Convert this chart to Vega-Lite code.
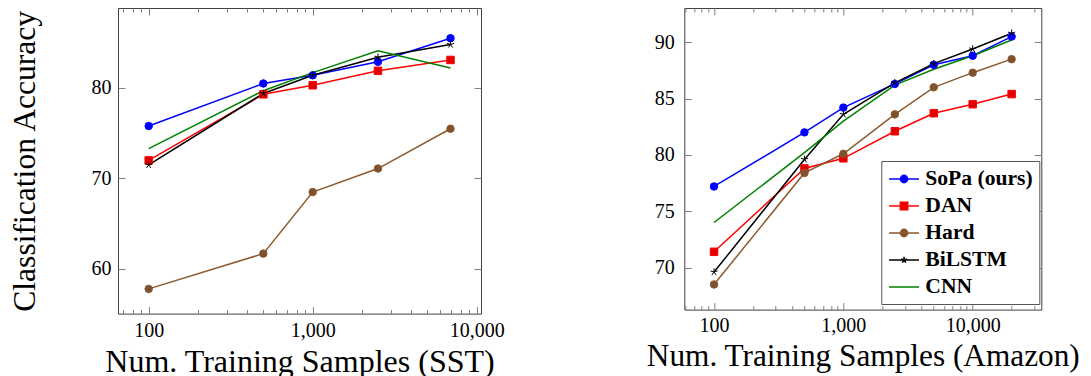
{
  "$schema": "https://vega.github.io/schema/vega-lite/v6.json",
  "padding": {"left": 8, "top": 7, "right": 5, "bottom": 0},
  "background": "white",
  "config": {
    "font": "Liberation Serif",
    "view": {"stroke": "#404040", "strokeWidth": 1},
    "axis": {
      "labelFont": "Liberation Serif",
      "titleFont": "Liberation Serif",
      "labelFontSize": 20,
      "labelColor": "#000000",
      "titleColor": "#000000",
      "titleFontWeight": "normal",
      "tickColor": "#808080",
      "tickWidth": 1,
      "grid": false,
      "domain": false,
      "labelFlush": false,
      "labelOverlap": false,
      "labelBound": false
    },
    "legend": {"labelFont": "Liberation Serif"}
  },
  "datasets": {
    "d": [
      {"panel": "SST", "model": "SoPa (ours)", "n": 100, "acc": 75.8},
      {"panel": "SST", "model": "SoPa (ours)", "n": 500, "acc": 80.5},
      {"panel": "SST", "model": "SoPa (ours)", "n": 1000, "acc": 81.4},
      {"panel": "SST", "model": "SoPa (ours)", "n": 2500, "acc": 82.9},
      {"panel": "SST", "model": "SoPa (ours)", "n": 6920, "acc": 85.5},
      {"panel": "SST", "model": "DAN", "n": 100, "acc": 72.0},
      {"panel": "SST", "model": "DAN", "n": 500, "acc": 79.3},
      {"panel": "SST", "model": "DAN", "n": 1000, "acc": 80.3},
      {"panel": "SST", "model": "DAN", "n": 2500, "acc": 81.9},
      {"panel": "SST", "model": "DAN", "n": 6920, "acc": 83.1},
      {"panel": "SST", "model": "Hard", "n": 100, "acc": 57.8},
      {"panel": "SST", "model": "Hard", "n": 500, "acc": 61.7},
      {"panel": "SST", "model": "Hard", "n": 1000, "acc": 68.5},
      {"panel": "SST", "model": "Hard", "n": 2500, "acc": 71.1},
      {"panel": "SST", "model": "Hard", "n": 6920, "acc": 75.5},
      {"panel": "SST", "model": "BiLSTM", "n": 100, "acc": 71.5},
      {"panel": "SST", "model": "BiLSTM", "n": 500, "acc": 79.4},
      {"panel": "SST", "model": "BiLSTM", "n": 1000, "acc": 81.4},
      {"panel": "SST", "model": "BiLSTM", "n": 2500, "acc": 83.4},
      {"panel": "SST", "model": "BiLSTM", "n": 6920, "acc": 84.8},
      {"panel": "SST", "model": "CNN", "n": 100, "acc": 73.3},
      {"panel": "SST", "model": "CNN", "n": 500, "acc": 79.7},
      {"panel": "SST", "model": "CNN", "n": 1000, "acc": 81.7},
      {"panel": "SST", "model": "CNN", "n": 2500, "acc": 84.1},
      {"panel": "SST", "model": "CNN", "n": 6920, "acc": 82.2},
      {"panel": "Amazon", "model": "SoPa (ours)", "n": 100, "acc": 77.2},
      {"panel": "Amazon", "model": "SoPa (ours)", "n": 500, "acc": 82.0},
      {"panel": "Amazon", "model": "SoPa (ours)", "n": 1000, "acc": 84.2},
      {"panel": "Amazon", "model": "SoPa (ours)", "n": 2500, "acc": 86.3},
      {"panel": "Amazon", "model": "SoPa (ours)", "n": 5000, "acc": 88.0},
      {"panel": "Amazon", "model": "SoPa (ours)", "n": 10000, "acc": 88.8},
      {"panel": "Amazon", "model": "SoPa (ours)", "n": 20000, "acc": 90.5},
      {"panel": "Amazon", "model": "DAN", "n": 100, "acc": 71.4},
      {"panel": "Amazon", "model": "DAN", "n": 500, "acc": 78.8},
      {"panel": "Amazon", "model": "DAN", "n": 1000, "acc": 79.7},
      {"panel": "Amazon", "model": "DAN", "n": 2500, "acc": 82.1},
      {"panel": "Amazon", "model": "DAN", "n": 5000, "acc": 83.7},
      {"panel": "Amazon", "model": "DAN", "n": 10000, "acc": 84.5},
      {"panel": "Amazon", "model": "DAN", "n": 20000, "acc": 85.4},
      {"panel": "Amazon", "model": "Hard", "n": 100, "acc": 68.5},
      {"panel": "Amazon", "model": "Hard", "n": 500, "acc": 78.4},
      {"panel": "Amazon", "model": "Hard", "n": 1000, "acc": 80.1},
      {"panel": "Amazon", "model": "Hard", "n": 2500, "acc": 83.6},
      {"panel": "Amazon", "model": "Hard", "n": 5000, "acc": 86.0},
      {"panel": "Amazon", "model": "Hard", "n": 10000, "acc": 87.3},
      {"panel": "Amazon", "model": "Hard", "n": 20000, "acc": 88.5},
      {"panel": "Amazon", "model": "BiLSTM", "n": 100, "acc": 69.6},
      {"panel": "Amazon", "model": "BiLSTM", "n": 500, "acc": 79.6},
      {"panel": "Amazon", "model": "BiLSTM", "n": 1000, "acc": 83.6},
      {"panel": "Amazon", "model": "BiLSTM", "n": 2500, "acc": 86.4},
      {"panel": "Amazon", "model": "BiLSTM", "n": 5000, "acc": 88.1},
      {"panel": "Amazon", "model": "BiLSTM", "n": 10000, "acc": 89.4},
      {"panel": "Amazon", "model": "BiLSTM", "n": 20000, "acc": 90.8},
      {"panel": "Amazon", "model": "CNN", "n": 100, "acc": 74.0},
      {"panel": "Amazon", "model": "CNN", "n": 500, "acc": 80.2},
      {"panel": "Amazon", "model": "CNN", "n": 1000, "acc": 83.0},
      {"panel": "Amazon", "model": "CNN", "n": 2500, "acc": 86.2},
      {"panel": "Amazon", "model": "CNN", "n": 5000, "acc": 87.6},
      {"panel": "Amazon", "model": "CNN", "n": 10000, "acc": 88.8},
      {"panel": "Amazon", "model": "CNN", "n": 20000, "acc": 90.2}
    ]
  },
  "hconcat": [
    {
      "width": 363,
      "height": 305.6,
      "data": {"name": "d"},
      "transform": [{"filter": "datum.panel === 'SST'"}],
      "layer": [
        {
          "mark": {"type": "line", "strokeWidth": 1.5},
          "encoding": {
            "x": {"field": "n", "type": "quantitative",
              "scale": {"type": "log", "domain": [65, 10620], "nice": false},
              "axis": {"orient": "bottom", "values": [100, 1000, 10000], "format": ",", "offset": -7, "tickSize": 7, "labelPadding": 7,
                "title": "Num. Training Samples (SST)", "titleFontSize": 32, "titlePadding": 6}},
            "y": {"field": "acc", "type": "quantitative",
              "scale": {"domain": [55.07, 88.84], "nice": false, "zero": false},
              "axis": {"orient": "left", "values": [60, 70, 80], "offset": -7, "tickSize": 7, "labelPadding": 7,
                "title": "Classification Accuracy", "titleFontSize": 31.6, "titlePadding": 50}},
            "color": {"field": "model", "type": "nominal",
              "scale": {"domain": ["SoPa (ours)", "DAN", "Hard", "BiLSTM", "CNN"], "range": ["#0000ff", "#ff0000", "#8c5a2d", "#000000", "#008000"]},
              "legend": null}
          }
        },
        {
          "transform": [{"filter": "datum.model !== 'CNN'"}],
          "mark": {"type": "point", "filled": false, "size": 56, "strokeWidth": 1, "opacity": 1},
          "encoding": {
            "x": {"field": "n", "type": "quantitative",
              "axis": {"orient": "bottom", "values": [70, 80, 90, 200, 300, 400, 500, 600, 700, 800, 900, 2000, 3000, 4000, 5000, 6000, 7000, 8000, 9000], "offset": -4, "tickSize": 4, "labels": false, "title": null}},
            "y": {"field": "acc", "type": "quantitative",
              "axis": {"orient": "right", "values": [60, 70, 80], "offset": -7, "tickSize": 7, "labels": false, "title": null}},
            "color": {"field": "model", "type": "nominal", "legend": null},
            "fill": {"field": "model", "type": "nominal",
              "scale": {"domain": ["SoPa (ours)", "DAN", "Hard", "BiLSTM", "CNN"], "range": ["#0000ff", "#e00000", "#7d5230", "#000000", "#008000"]},
              "legend": null},
            "shape": {"field": "model", "type": "nominal",
              "scale": {"domain": ["SoPa (ours)", "DAN", "Hard", "BiLSTM"], "range": ["circle", "square", "circle", "M0,0L0,-1M0,0L0.951,-0.309M0,0L0.588,0.809M0,0L-0.588,0.809M0,0L-0.951,-0.309"]},
              "legend": null}
          }
        },
        {
          "mark": {"type": "point", "opacity": 0},
          "encoding": {
            "x": {"field": "n", "type": "quantitative",
              "axis": {"orient": "top", "values": [100, 1000, 10000], "offset": -7, "tickSize": 7, "labels": false, "title": null}},
            "y": {"field": "acc", "type": "quantitative", "axis": null}
          }
        },
        {
          "mark": {"type": "point", "opacity": 0},
          "encoding": {
            "x": {"field": "n", "type": "quantitative",
              "axis": {"orient": "top", "values": [70, 80, 90, 200, 300, 400, 500, 600, 700, 800, 900, 2000, 3000, 4000, 5000, 6000, 7000, 8000, 9000], "offset": -4, "tickSize": 4, "labels": false, "title": null}},
            "y": {"field": "acc", "type": "quantitative", "axis": null}
          }
        }
      ],
      "resolve": {"axis": {"x": "independent", "y": "independent"}}
    },
    {
      "width": 357,
      "height": 301.6,
      "data": {"name": "d"},
      "transform": [{"filter": "datum.panel === 'Amazon'"}],
      "layer": [
        {
          "mark": {"type": "line", "strokeWidth": 1.5},
          "encoding": {
            "x": {"field": "n", "type": "quantitative",
              "scale": {"type": "log", "domain": [58.9, 33920], "nice": false},
              "axis": {"orient": "bottom", "values": [100, 1000, 10000], "format": ",", "offset": -7, "tickSize": 7, "labelPadding": 6,
                "title": "Num. Training Samples (Amazon)", "titleFontSize": 31.3, "titlePadding": 5}},
            "y": {"field": "acc", "type": "quantitative",
              "scale": {"domain": [66.27, 93.04], "nice": false, "zero": false},
              "axis": {"orient": "left", "values": [70, 75, 80, 85, 90], "offset": -7, "tickSize": 7, "labelPadding": 10, "title": null}},
            "color": {"field": "model", "type": "nominal",
              "scale": {"domain": ["SoPa (ours)", "DAN", "Hard", "BiLSTM", "CNN"], "range": ["#0000ff", "#ff0000", "#8c5a2d", "#000000", "#008000"]},
              "legend": {
                "orient": "none", "legendX": 197, "legendY": 153, "title": null,
                "padding": 6, "strokeColor": "#555555", "fillColor": "#ffffff",
                "labelFont": "Liberation Serif", "labelFontSize": 21.6, "labelFontWeight": "bold", "labelColor": "#000000",
                "symbolSize": 484, "symbolStrokeWidth": 1.5, "labelOffset": 14, "rowPadding": 4,
                "encode": {
                  "symbols": {
                    "update": {
                      "shape": {"signal": "(datum.value === 'SoPa (ours)' || datum.value === 'Hard') ? 'M-0.93,0H1.79M0.76,0A0.33,0.33,0,1,1,0.1,0A0.33,0.33,0,1,1,0.76,0Z' : datum.value === 'DAN' ? 'M-0.93,0H1.79M0.09,-0.34H0.77V0.34H0.09Z' : datum.value === 'BiLSTM' ? 'M-0.93,0H1.79M0.43,0V-0.29M0.43,0L0.706,-0.09M0.43,0L0.6,0.235M0.43,0L0.26,0.235M0.43,0L0.154,-0.09' : 'M-0.93,0H1.79'"},
                      "fill": {"signal": "datum.value === 'SoPa (ours)' ? '#0000ff' : datum.value === 'DAN' ? '#e00000' : datum.value === 'Hard' ? '#7d5230' : datum.value === 'BiLSTM' ? '#000000' : '#008000'"}
                    }
                  }
                }
              }}
          }
        },
        {
          "transform": [{"filter": "datum.model !== 'CNN'"}],
          "mark": {"type": "point", "filled": false, "size": 56, "strokeWidth": 1, "opacity": 1},
          "encoding": {
            "x": {"field": "n", "type": "quantitative",
              "axis": {"orient": "bottom", "values": [60, 70, 80, 90, 200, 300, 400, 500, 600, 700, 800, 900, 2000, 3000, 4000, 5000, 6000, 7000, 8000, 9000, 20000, 30000], "offset": -4, "tickSize": 4, "labels": false, "title": null}},
            "y": {"field": "acc", "type": "quantitative",
              "axis": {"orient": "right", "values": [70, 75, 80, 85, 90], "offset": -7, "tickSize": 7, "labels": false, "title": null}},
            "color": {"field": "model", "type": "nominal", "legend": null},
            "fill": {"field": "model", "type": "nominal",
              "scale": {"domain": ["SoPa (ours)", "DAN", "Hard", "BiLSTM", "CNN"], "range": ["#0000ff", "#e00000", "#7d5230", "#000000", "#008000"]},
              "legend": null},
            "shape": {"field": "model", "type": "nominal",
              "scale": {"domain": ["SoPa (ours)", "DAN", "Hard", "BiLSTM"], "range": ["circle", "square", "circle", "M0,0L0,-1M0,0L0.951,-0.309M0,0L0.588,0.809M0,0L-0.588,0.809M0,0L-0.951,-0.309"]},
              "legend": null}
          }
        },
        {
          "mark": {"type": "point", "opacity": 0},
          "encoding": {
            "x": {"field": "n", "type": "quantitative",
              "axis": {"orient": "top", "values": [100, 1000, 10000], "offset": -7, "tickSize": 7, "labels": false, "title": null}},
            "y": {"field": "acc", "type": "quantitative", "axis": null}
          }
        },
        {
          "mark": {"type": "point", "opacity": 0},
          "encoding": {
            "x": {"field": "n", "type": "quantitative",
              "axis": {"orient": "top", "values": [60, 70, 80, 90, 200, 300, 400, 500, 600, 700, 800, 900, 2000, 3000, 4000, 5000, 6000, 7000, 8000, 9000, 20000, 30000], "offset": -4, "tickSize": 4, "labels": false, "title": null}},
            "y": {"field": "acc", "type": "quantitative", "axis": null}
          }
        }
      ],
      "resolve": {"axis": {"x": "independent", "y": "independent"}}
    }
  ],
  "spacing": 203.3,
  "bounds": "flush",
  "resolve": {"scale": {"x": "independent", "y": "independent", "color": "independent", "fill": "independent", "shape": "independent"}}
}
